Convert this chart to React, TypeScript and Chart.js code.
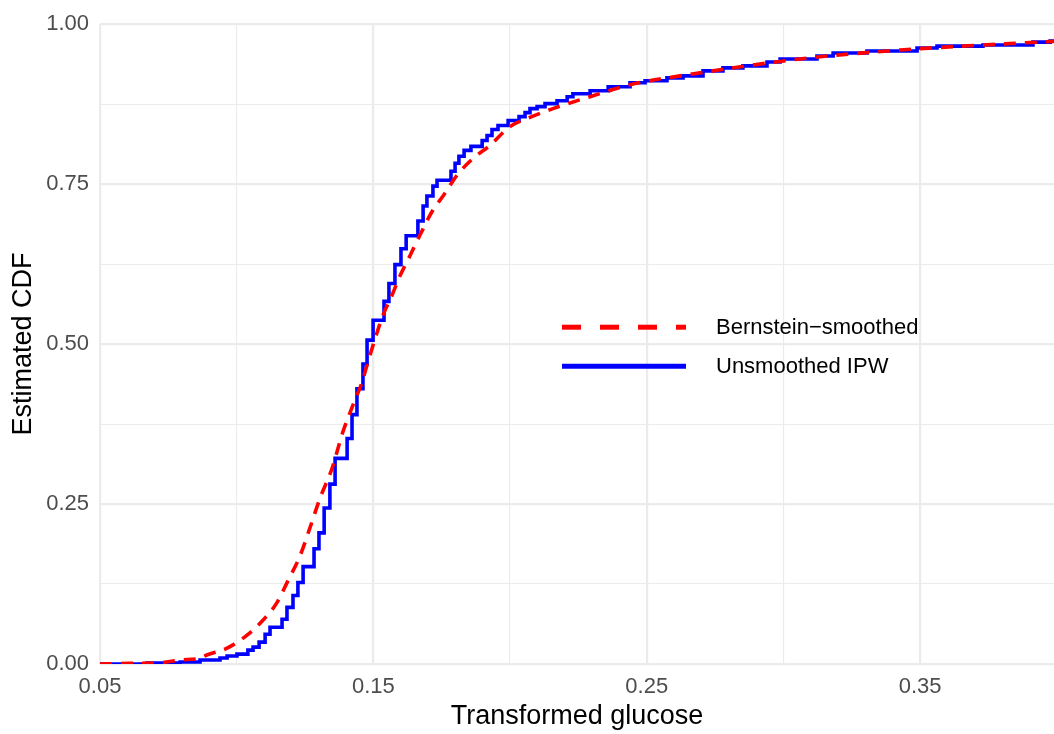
import React, { useEffect, useRef } from "react";
import { Chart, registerables } from "chart.js";

Chart.register(...registerables);

// Unsmoothed IPW (step function): jump locations and CDF value after jump
const ipwX = [
  0.05, 0.0672, 0.0793, 0.0866, 0.0939, 0.0965, 0.1001, 0.1041, 0.106, 0.1082,
  0.1104, 0.1122, 0.1166, 0.1184, 0.1206, 0.1224, 0.1243, 0.1283, 0.1301, 0.132,
  0.1341, 0.136, 0.1404, 0.1422, 0.144, 0.1462, 0.1477, 0.1499, 0.1539, 0.1557,
  0.1579, 0.1601, 0.162, 0.1663, 0.1682, 0.1696, 0.1718, 0.1733, 0.1784, 0.1799,
  0.1813, 0.1832, 0.1857, 0.1898, 0.1916, 0.1934, 0.1956, 0.1993, 0.2033, 0.2055,
  0.2073, 0.2099, 0.2128, 0.2172, 0.2209, 0.223, 0.2293, 0.2359, 0.2439, 0.2494,
  0.2574, 0.2633, 0.2706, 0.2779, 0.2852, 0.294, 0.2988, 0.3123, 0.3182, 0.3306,
  0.3489, 0.3562, 0.373, 0.3913, 0.3976, 0.41,
];
const ipwY = [
  0, 0.0016, 0.0031, 0.0062, 0.0093, 0.0124, 0.0155, 0.0217, 0.0264, 0.0342,
  0.0466, 0.0575, 0.0699, 0.0885, 0.1071, 0.1273, 0.1522, 0.1801, 0.205, 0.2438,
  0.2811, 0.3214, 0.3525, 0.3898, 0.4301, 0.4689, 0.5062, 0.5373, 0.5668, 0.5947,
  0.6242, 0.6491, 0.6693, 0.6925, 0.7158, 0.7314, 0.7469, 0.7562, 0.7702, 0.7826,
  0.7935, 0.8028, 0.809, 0.8183, 0.8261, 0.8354, 0.8416, 0.8494, 0.8556, 0.8618,
  0.868, 0.8711, 0.8758, 0.8804, 0.8866, 0.8913, 0.896, 0.9022, 0.9084, 0.9115,
  0.9161, 0.9193, 0.927, 0.9317, 0.9348, 0.941, 0.9457, 0.9503, 0.955, 0.9581,
  0.9627, 0.9658, 0.9674, 0.972, 0.9736, 0.9736,
];

// Bernstein-smoothed CDF
const bernX = [
  0.05, 0.061, 0.0709, 0.0793, 0.0866, 0.0891, 0.0965, 0.1038, 0.1096, 0.1148,
  0.1188, 0.1232, 0.1268, 0.1305, 0.1349, 0.1389, 0.1426, 0.1459, 0.1477, 0.1506,
  0.1535, 0.1568, 0.1598, 0.1634, 0.1671, 0.1718, 0.1755, 0.1806, 0.1865, 0.1927,
  0.2, 0.2062, 0.2157, 0.2304, 0.2439, 0.2695, 0.3061, 0.3427, 0.3793, 0.41,
];
const bernY = [
  0, 0.001, 0.0016, 0.0062, 0.0093, 0.014, 0.0248, 0.045, 0.0683, 0.0963,
  0.1304, 0.1693, 0.2127, 0.2593, 0.3059, 0.3634, 0.4053, 0.441, 0.4674, 0.5078,
  0.545, 0.5761, 0.6071, 0.6382, 0.6708, 0.7096, 0.7314, 0.764, 0.7904, 0.8106,
  0.8401, 0.8525, 0.868, 0.8882, 0.9053, 0.9239, 0.9457, 0.9596, 0.9689, 0.9755,
];

const xMajorTicks = [0.05, 0.15, 0.25, 0.35];
const xMinorTicks = [0.1, 0.2, 0.3];
const yMajorTicks = [0, 0.25, 0.5, 0.75, 1];
const yMinorTicks = [0.125, 0.375, 0.625, 0.875];
const seriesLabels = ["Bernstein\u2212smoothed", "Unsmoothed IPW"];
const xTitle = "Transformed glucose";
const yTitle = "Estimated CDF";

const FONT = "'Liberation Sans', Arial, Helvetica, sans-serif";
const RED = "#FF0000";
const BLUE = "#0000FF";
const GRID = "#EBEBEB";

const isIn = (v: number, list: number[]) => list.some((m) => Math.abs(m - v) < 1e-9);

const legendPlugin = {
  id: "customLegend",
  afterDraw(chart: any) {
    const { ctx, chartArea } = chart;
    const x0 = chartArea.left + 462;
    const x1 = chartArea.left + 586;
    const tx = chartArea.left + 616;
    const rows = [
      { y: chartArea.top + 303, color: RED, dash: [19, 19], label: seriesLabels[0] },
      { y: chartArea.top + 342, color: BLUE, dash: [], label: seriesLabels[1] },
    ];
    ctx.save();
    rows.forEach((r) => {
      ctx.beginPath();
      ctx.setLineDash(r.dash);
      ctx.lineCap = "butt";
      ctx.strokeStyle = r.color;
      ctx.lineWidth = 5;
      ctx.moveTo(x0, r.y);
      ctx.lineTo(x1, r.y);
      ctx.stroke();
      ctx.setLineDash([]);
      ctx.fillStyle = "#000000";
      ctx.font = `22px ${FONT}`;
      ctx.textAlign = "left";
      ctx.textBaseline = "middle";
      ctx.fillText(r.label, tx, r.y + 1);
    });
    ctx.restore();
  },
};

export default function App() {
  const ref = useRef<HTMLCanvasElement | null>(null);

  useEffect(() => {
    if (!ref.current) return;
    const chart = new Chart(ref.current, {
      type: "line",
      data: {
        datasets: [
          {
            label: seriesLabels[0],
            data: bernX.map((x, i) => ({ x, y: bernY[i] })),
            borderColor: RED,
            borderWidth: 3.6,
            borderDash: [12, 9],
            borderCapStyle: "butt",
            pointRadius: 0,
            cubicInterpolationMode: "monotone",
            fill: false,
          },
          {
            label: seriesLabels[1],
            data: ipwX.map((x, i) => ({ x, y: ipwY[i] })),
            borderColor: BLUE,
            borderWidth: 3.6,
            stepped: "before",
            pointRadius: 0,
            fill: false,
          },
        ],
      },
      options: {
        animation: false,
        responsive: true,
        maintainAspectRatio: false,
        layout: { padding: { top: 20, right: 0, left: 0, bottom: 0 } },
        plugins: {
          legend: { display: false },
          tooltip: { enabled: false },
        },
        scales: {
          x: {
            type: "linear",
            min: 0.05,
            max: 0.399,
            afterFit: (s: any) => {
              s.height = 70;
            },
            afterBuildTicks: (s: any) => {
              s.ticks = [...xMajorTicks, ...xMinorTicks]
                .sort((a, b) => a - b)
                .map((v) => ({ value: v }));
            },
            ticks: {
              autoSkip: false,
              maxRotation: 0,
              padding: 10,
              color: "#4D4D4D",
              font: { family: FONT, size: 22 },
              callback: (v: any) => (isIn(Number(v), xMajorTicks) ? Number(v).toFixed(2) : ""),
            },
            grid: {
              drawTicks: false,
              color: GRID,
              lineWidth: (c: any) => (c.tick && isIn(c.tick.value, xMajorTicks) ? 2.2 : 1.1),
            },
            border: { display: false },
            title: {
              display: true,
              text: xTitle,
              color: "#000000",
              font: { family: FONT, size: 27 },
              padding: { top: 0, bottom: 1 },
            },
          },
          y: {
            type: "linear",
            min: 0,
            max: 1,
            afterFit: (s: any) => {
              s.width = 100;
            },
            afterBuildTicks: (s: any) => {
              s.ticks = [...yMajorTicks, ...yMinorTicks]
                .sort((a, b) => a - b)
                .map((v) => ({ value: v }));
            },
            ticks: {
              autoSkip: false,
              padding: 11,
              color: "#4D4D4D",
              font: { family: FONT, size: 22 },
              callback: (v: any) => (isIn(Number(v), yMajorTicks) ? Number(v).toFixed(2) : ""),
            },
            grid: {
              drawTicks: false,
              color: GRID,
              lineWidth: (c: any) => (c.tick && isIn(c.tick.value, yMajorTicks) ? 2.2 : 1.1),
            },
            border: { display: false },
            title: {
              display: true,
              text: yTitle,
              color: "#000000",
              font: { family: FONT, size: 27 },
              padding: { top: 7, bottom: 0 },
            },
          },
        },
      },
      plugins: [legendPlugin],
    } as any);
    return () => chart.destroy();
  }, []);

  return (
    <div style={{ position: "fixed", left: 0, top: 0, width: 1054, height: 734, background: "#FFFFFF" }}>
      <canvas ref={ref} />
    </div>
  );
}
